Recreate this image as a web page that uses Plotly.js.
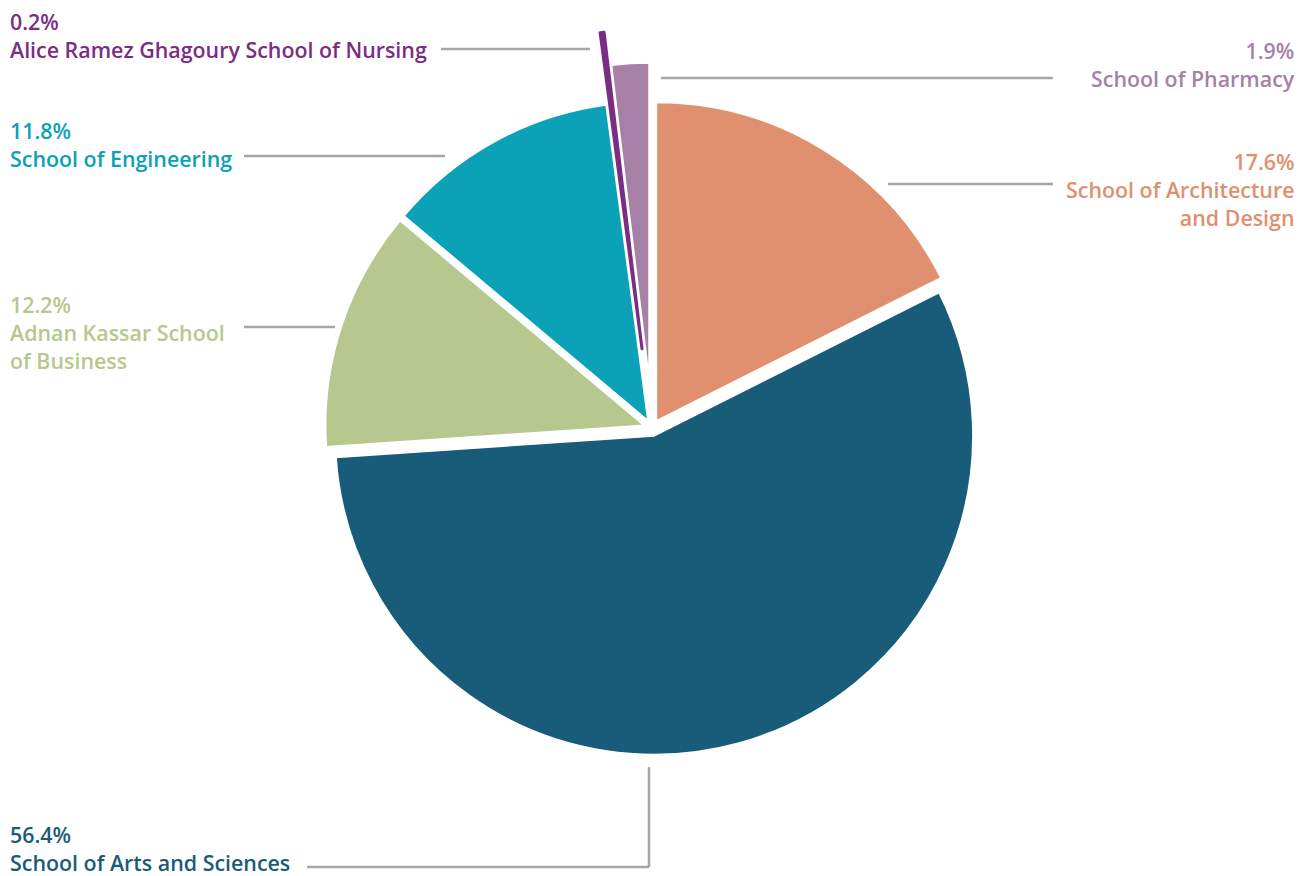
<!DOCTYPE html>
<html>
<head>
<meta charset="utf-8">
<script src="https://cdn.plot.ly/plotly-3.0.1.min.js"></script>
<style>html,body{margin:0;padding:0;background:#fff;}#chart{width:1301px;height:876px;}</style>
</head>
<body>
<div id="chart"></div>
<script>
// Data
const schools = ["School of Architecture<br>and Design", "School of Arts and Sciences", "Adnan Kassar School<br>of Business", "School of Engineering", "Alice Ramez Ghagoury School of Nursing", "School of Pharmacy"];
const shares = [17.6, 56.4, 12.2, 11.8, 0.2, 1.9];
const colors = ["#E08F6F", "#195C7A", "#B7C78E", "#0BA1B7", "#7B2D84", "#A780A8"];
const pulls = [0.025, 0.025, 0.025, 0.025, 0.25, 0.145];

const W = 1301, H = 876;
const px = x => x / W;
const py = y => 1 - y / H;

// label layout: [x, yTop, anchor]
const labelPos = [
  [1296, 146, "right"],
  [9, 819, "left"],
  [9, 289, "left"],
  [9, 115, "left"],
  [9, 6, "left"],
  [1296, 35, "right"]
];
const leaders = [
  [[888, 184], [1053, 184]],
  [[649, 767], [649, 867], [307, 867]],
  [[244, 327], [335, 327]],
  [[244, 156], [445, 156]],
  [[441, 49], [590, 49]],
  [[661, 78], [1053, 78]]
];

const FONT = "'Open Sans', 'Liberation Sans', sans-serif";

const annotations = schools.map((s, i) => ({
  xref: "paper", yref: "paper",
  x: px(labelPos[i][0]), y: py(labelPos[i][1]),
  xanchor: labelPos[i][2], yanchor: "top",
  align: labelPos[i][2],
  borderpad: 0,
  showarrow: false,
  text: shares[i].toFixed(1) + "%<br>" + s,
  font: {family: FONT, size: 21.4, color: colors[i], weight: 600}
}));

const shapes = [];
leaders.forEach(pts => {
  for (let k = 0; k < pts.length - 1; k++) {
    shapes.push({type: "line", xref: "paper", yref: "paper",
      x0: px(pts[k][0]), y0: py(pts[k][1]), x1: px(pts[k+1][0]), y1: py(pts[k+1][1]),
      line: {color: "#A6A6A6", width: 2.5}});
  }
});

const cx = 652, cy = 428, r = 319, maxPull = 0.25;
const half = r * (1 + maxPull);

const lineColors = colors.map((c, i) => shares[i] < 1 ? c : "#ffffff");
const lineWidths = shares.map(v => v < 1 ? 3 : 2);

const trace = {
  type: "pie",
  values: shares,
  labels: schools,
  sort: false,
  direction: "clockwise",
  rotation: 0,
  pull: pulls,
  textinfo: "none",
  hoverinfo: "label+percent",
  marker: {colors: colors, line: {color: lineColors, width: lineWidths}},
  domain: {x: [px(cx - half), px(cx + half)], y: [py(cy + half), py(cy - half)]},
  showlegend: false
};

const layout = {
  width: W, height: H,
  margin: {l: 0, r: 0, t: 0, b: 0},
  paper_bgcolor: "#ffffff",
  showlegend: false,
  annotations: annotations,
  shapes: shapes,
  font: {family: FONT}
};

Plotly.newPlot("chart", [trace], layout, {displayModeBar: false, staticPlot: true});
</script>
</body>
</html>
